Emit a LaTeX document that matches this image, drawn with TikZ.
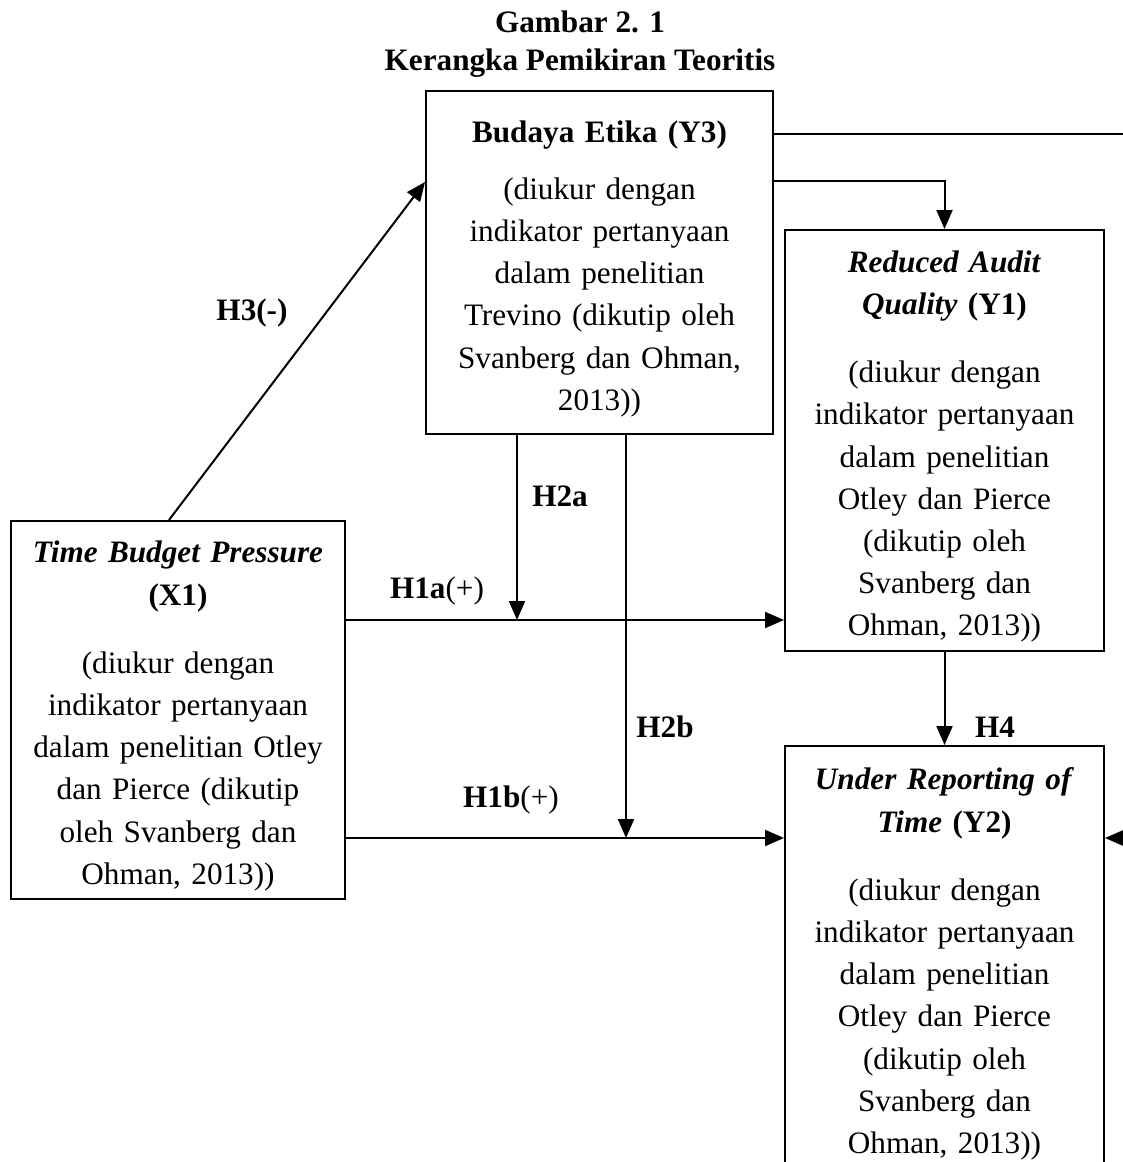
\documentclass[tikz,border=0pt]{standalone}
\usepackage{fontspec}
\setmainfont{Liberation Serif}
\usetikzlibrary{arrows.meta,positioning,calc}
\tikzset{
 box/.style={draw,line width=1pt,align=center,inner sep=0pt,anchor=north west,
  font=\fontsize{15.6}{21.1}\selectfont,execute at begin node={\rule{0pt}{17pt}}},
 arr/.style={line width=1pt,-{Triangle[length=9.5pt,width=8pt]}},
 hyp/.style={font=\fontsize{15.6}{21}\selectfont\bfseries}}

\begin{document}
\begin{tikzpicture}[x=0.5pt,y=-0.5pt]
\useasboundingbox (0,0) rectangle (1123,1162);
\clip (0,0) rectangle (1123,1162);
\node[font=\fontsize{15.6}{19}\selectfont\bfseries,align=center] (title) at (580,44) {Gambar 2. 1\\Kerangka Pemikiran Teoritis};
% variables
\node[box,minimum width=173.5pt,minimum height=171.5pt,text width=165pt] (y3) at (425,90)
 {\textbf{Budaya Etika (Y3)}\\[7.5pt](diukur dengan\\indikator pertanyaan\\dalam penelitian\\Trevino (dikutip oleh\\Svanberg dan Ohman,\\2013))};
\node[box,minimum width=159.5pt,minimum height=210.5pt,text width=152pt] (y1) at (784,229)
 {\textbf{\textit{Reduced Audit}}\\\textbf{\textit{Quality} (Y1)}\\[13pt](diukur dengan\\indikator pertanyaan\\dalam penelitian\\Otley dan Pierce\\(dikutip oleh\\Svanberg dan\\Ohman, 2013))};
\node[box,minimum width=167pt,minimum height=189pt,text width=160pt] (x1) at (10,520)
 {\textbf{\textit{Time Budget Pressure}}\\\textbf{(X1)}\\[13pt](diukur dengan\\indikator pertanyaan\\dalam penelitian Otley\\dan Pierce (dikutip\\oleh Svanberg dan\\Ohman, 2013))};
\node[box,minimum width=159.5pt,minimum height=212pt,text width=152pt] (y2) at (784,745)
 {\textbf{\textit{Under Reporting of}}\\\textbf{\textit{Time} (Y2)}\\[13pt](diukur dengan\\indikator pertanyaan\\dalam penelitian\\Otley dan Pierce\\(dikutip oleh\\Svanberg dan\\Ohman, 2013))};
% paths
\coordinate (j2a) at (517,620);
\coordinate (j2b) at (626,838);
\coordinate (rim) at (1140,134);
\draw[arr] ($(x1.north)+(-9,0)$) -- (y3.west |- 0,182);
\draw[arr] (x1.east |- j2a) -- (y1.west |- j2a);
\draw[arr] (y3.south -| j2a) -- (j2a);
\draw[arr] (x1.east |- j2b) -- (y2.west |- j2b);
\draw[arr] (y3.south -| j2b) -- (j2b);
\draw[arr] (y1.south) -- (y2.north);
\draw[arr] (y3.east |- 0,181) -| (y1.north);
\draw[arr] (y3.east |- rim) -- (rim) |- (y2.east |- j2b);
\foreach \n/\t/\x/\y in {h3/H3(-)/252/313,h1a/H1a\textmd{(+)}/437/591,h2a/H2a/560/496,
 h2b/H2b/665/727,h1b/H1b\textmd{(+)}/511/800,h4/H4/995/727}
 \node[hyp] (\n) at (\x,\y) {\t};
\end{tikzpicture}
\end{document}
